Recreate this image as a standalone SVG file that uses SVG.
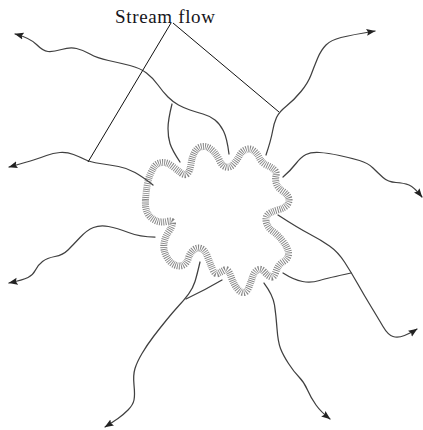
<svg xmlns="http://www.w3.org/2000/svg" width="423" height="430" viewBox="0 0 423 430">
  <style>
    .stream { fill: none; stroke: #404040; stroke-width: 1.25; stroke-linecap: round; stroke-linejoin: round; }
    .arrow { marker-end: url(#head); }
    .leader { fill: none; stroke: #111; stroke-width: 1; }
    .label { font-family: "Liberation Serif", "Times New Roman", serif; font-size: 19px; fill: #151520; }
    .hatch { fill: none; stroke: #858585; stroke-width: 7; stroke-dasharray: 0.9 1.1; stroke-linejoin: round; }
  </style>
  <defs>
    <marker id="head" viewBox="0 0 9 8" refX="8.5" refY="4" markerWidth="9" markerHeight="8" markerUnits="userSpaceOnUse" orient="auto">
      <path d="M0,0.5 L9,4 L0,7.5 L1.5,4 Z" fill="#222"/>
    </marker>
  </defs>
  <rect width="423" height="430" fill="#fff"/>

  <!-- central source with hatched rim -->
  <g id="source">
    <path class="hatch" d="M145.5,200 Q146,193 147,186.5 Q148,180 150,175 Q152,170 154.5,166.5 Q157,163 162,162.5 Q167,162 172,166 Q177,170 181,173 Q185,176 187.5,173.5 Q190,171 191,164 Q192,157 194.5,152.5 Q197,148 200.5,147 Q204,146 207,147 Q210,148 213.5,151.5 Q217,155 219.5,160.5 Q222,166 226,167 Q230,168 233.5,164 Q237,160 239.5,155.5 Q242,151 246,149.5 Q250,148 253.5,150.5 Q257,153 259.5,158 Q262,163 266.5,165 Q271,167 274,169.5 Q277,172 276,176 Q275,180 276.5,184 Q278,188 282.5,191 Q287,194 288.5,197.5 Q290,201 287.5,204.5 Q285,208 277.5,210 Q270,212 267.5,215 Q265,218 266.5,223 Q268,228 273,231.5 Q278,235 283,241.5 Q288,248 288.5,253 Q289,258 283.5,261.5 Q278,265 276,271.5 Q274,278 271,277 Q268,276 264.5,272 Q261,268 257.5,270 Q254,272 252.5,277 Q251,282 249,287 Q247,292 244,292.5 Q241,293 237.5,289 Q234,285 231,276.5 Q228,268 224.5,270 Q221,272 218,273.5 Q215,275 212.5,269 Q210,263 207.5,256.5 Q205,250 201,248.5 Q197,247 193.5,250 Q190,253 188.5,258 Q187,263 183.5,265 Q180,267 175,265 Q170,263 166.5,256.5 Q163,250 164,243.5 Q165,237 168.5,232 Q172,227 172.5,223.5 Q173,220 166.5,221.5 Q160,223 154.5,220 Q149,217 147,212 Q145,207 145.5,200 Z"/>
  </g>

  <!-- outflowing streams -->
  <g id="streams">
    <path id="stream-nw" class="stream arrow" d="M229,154 Q227,138 223.5,131 Q220,124 215,120 Q210,116 203,114 Q196,112 190,110 Q184,108 178.5,105 Q173,102 168,97 Q163,92 158,85 Q153,78 146.5,73 Q140,68 130,65.5 Q120,63 108.5,60.5 Q97,58 90,54 Q83,50 76.5,48.5 Q70,47 61.5,49.5 Q53,52 48,51.5 Q43,51 36.5,44.5 Q30,38 15,34"/>
    <path id="stream-nw-branch" class="stream" d="M180,162 Q172,150 170,143.5 Q168,137 168,128.5 Q168,120 172,104"/>
    <path id="stream-w" class="stream arrow" d="M153,185 Q143,177 135,172.5 Q127,168 118.5,166.5 Q110,165 100,163.5 Q90,162 85,159.5 Q80,157 73.5,154.5 Q67,152 60,152.5 Q53,153 46.5,155.5 Q40,158 33.5,160 Q27,162 9,167"/>
    <path id="stream-ne" class="stream arrow" d="M266,155 Q271,140 272.5,131.5 Q274,123 276.5,117.5 Q279,112 286.5,106 Q294,100 301,91.5 Q308,83 311,75 Q314,67 317.5,58.5 Q321,50 326,45 Q331,40 341,37.5 Q351,35 375,31"/>
    <path id="stream-e" class="stream arrow" d="M283,177 Q291,170 296,163.5 Q301,157 306,154.5 Q311,152 319.5,152.5 Q328,153 339.5,155.5 Q351,158 359.5,160.5 Q368,163 373,168 Q378,173 383,177.5 Q388,182 396,182.5 Q404,183 409,185 Q414,187 422,197"/>
    <path id="stream-se" class="stream arrow" d="M278,215 Q298,228 309.5,234 Q321,240 329.5,246 Q338,252 344.5,262 Q351,272 357.5,283.5 Q364,295 371,306.5 Q378,318 383,326.5 Q388,335 393,336.5 Q398,338 404.5,335.5 Q411,333 417,329"/>
    <path id="stream-se-branch" class="stream" d="M283,273 Q294,280 302.5,281.5 Q311,283 319.5,280.5 Q328,278 351,273"/>
    <path id="stream-s" class="stream arrow" d="M264,283 Q273,295 274.5,305 Q276,315 277,328.5 Q278,342 280.5,348.5 Q283,355 288.5,363.5 Q294,372 299,377 Q304,382 307.5,390 Q311,398 316,405 Q321,412 330,419"/>
    <path id="stream-sw" class="stream arrow" d="M155,237 Q140,237 128.5,232.5 Q117,228 108.5,226.5 Q100,225 93.5,227.5 Q87,230 80,237.5 Q73,245 68,250 Q63,255 55,256.5 Q47,258 42.5,261.5 Q38,265 35.5,270 Q33,275 28,277.5 Q23,280 9,283"/>
    <path id="stream-ssw" class="stream arrow" d="M200,262 Q197,275 195,281.5 Q193,288 188.5,294 Q184,300 178.5,306 Q173,312 166.5,320 Q160,328 153.5,336.5 Q147,345 142,353.5 Q137,362 135,368.5 Q133,375 134,385 Q135,395 134,400 Q133,405 128,410 Q123,415 118,418.5 Q113,422 105,427"/>
    <path id="stream-ssw-branch" class="stream" d="M222,280 Q205,290 186,299"/>
  </g>

  <!-- label with leader lines -->
  <g id="label-stream-flow">
    <path class="leader" d="M171,23 L88,162 M173,23 L279,112"/>
    <text class="label" x="115" y="23" textLength="100" lengthAdjust="spacing">Stream flow</text>
  </g>
</svg>
